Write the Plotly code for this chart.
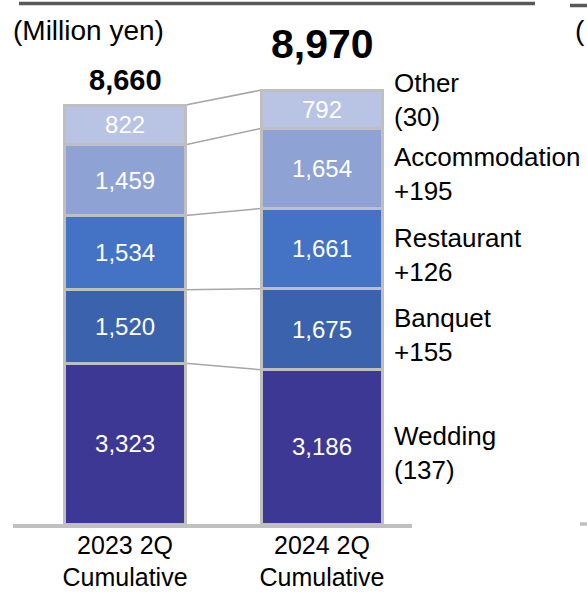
import plotly.graph_objects as go

# Sales breakdown by segment (million yen), bottom to top of each stack
periods = ["2023 2Q<br>Cumulative", "2024 2Q<br>Cumulative"]
segments = ["Wedding", "Banquet", "Restaurant", "Accommodation", "Other"]
sales_2023 = [3323, 1520, 1534, 1459, 822]
sales_2024 = [3186, 1675, 1661, 1654, 792]
totals = [8660, 8970]
changes = [-137, 155, 126, 195, -30]
colors = ["#3d3893", "#3b63ad", "#4472c4", "#8ea3d3", "#b9c3e3"]
unit_label = "(Million yen)"

FONT = "Liberation Sans, Arial, sans-serif"
W, H = 587, 593
L, R, T, B = 13, 175, 80, 69
BAR_W = 0.614


def px_x(px):
    return (px - L) / (W - L - R)


def px_y(py):
    return (H - B - py) / (H - T - B)


def fmt_change(v):
    return f"+{v:,}" if v >= 0 else f"({abs(v):,})"


xs = [0, 1]
fig = go.Figure()
for i, seg in enumerate(segments):
    vals = [sales_2023[i], sales_2024[i]]
    fig.add_trace(go.Bar(
        x=xs, y=vals, name=seg, width=BAR_W,
        marker=dict(color=colors[i], line=dict(color="#bfbfbf", width=3)),
        text=[f"{v:,}" for v in vals], textposition="inside",
        insidetextanchor="middle", constraintext="none",
        textfont=dict(family=FONT, size=24, color="white"),
        hoverinfo="skip",
    ))

# cumulative boundaries for the connector lines between the two stacks
cum_a, cum_b = [], []
sa = sb = 0
for a, b in zip(sales_2023, sales_2024):
    sa += a
    sb += b
    cum_a.append(sa)
    cum_b.append(sb)

shapes = []
for ya, yb in zip(cum_a, cum_b):
    shapes.append(dict(type="line", xref="x", yref="y",
                       x0=BAR_W / 2, x1=1 - BAR_W / 2, y0=ya, y1=yb,
                       line=dict(color="#a6a6a6", width=1.5), layer="below"))

# header rules and the edge of the neighbouring panel
shapes.append(dict(type="line", xref="paper", yref="paper",
                   x0=px_x(19), x1=px_x(535), y0=px_y(3.5), y1=px_y(3.5),
                   line=dict(color="#595959", width=3.5)))
shapes.append(dict(type="line", xref="paper", yref="paper",
                   x0=px_x(570), x1=px_x(600), y0=px_y(5.5), y1=px_y(5.5),
                   line=dict(color="#595959", width=3.5)))
shapes.append(dict(type="line", xref="paper", yref="paper",
                   x0=px_x(580), x1=px_x(600), y0=px_y(524), y1=px_y(524),
                   line=dict(color="#c0c0c0", width=3.5)))

annotations = []
# totals above each stack
annotations.append(dict(x=0, y=totals[0], xref="x", yref="y", text=f"<b>{totals[0]:,}</b>",
                        showarrow=False, yanchor="middle", yshift=25,
                        font=dict(family=FONT, size=29, color="black")))
annotations.append(dict(x=1, y=totals[1], xref="x", yref="y", text=f"<b>{totals[1]:,}</b>",
                        showarrow=False, yanchor="middle", yshift=46,
                        font=dict(family=FONT, size=41, color="black")))

# segment names with year-on-year change, beside the 2024 stack
prev = 0
for i, seg in enumerate(segments):
    mid = prev + sales_2024[i] / 2
    prev += sales_2024[i]
    annotations.append(dict(x=1 + BAR_W / 2, y=mid, xref="x", yref="y",
                            text=f"{seg}<br>{fmt_change(changes[i])}",
                            showarrow=False, xanchor="left", yanchor="middle",
                            align="left", xshift=10, yshift=9 if seg == "Other" else -6,
                            font=dict(family=FONT, size=26, color="black")))

annotations.append(dict(x=px_x(11), y=px_y(30), xref="paper", yref="paper",
                        text=unit_label, showarrow=False, xanchor="left", yanchor="middle",
                        font=dict(family=FONT, size=28, color="black")))
# opening bracket of the next panel's unit label, at the right edge
annotations.append(dict(x=px_x(573), y=px_y(30), xref="paper", yref="paper",
                        text="(", showarrow=False, xanchor="left", yanchor="middle",
                        font=dict(family=FONT, size=28, color="black")))

fig.update_layout(
    barmode="stack",
    width=W, height=H,
    margin=dict(l=L, r=R, t=T, b=B, pad=0),
    plot_bgcolor="white", paper_bgcolor="white",
    showlegend=False,
    shapes=shapes, annotations=annotations,
    xaxis=dict(range=[-0.569, 1.457], tickvals=xs, ticktext=periods,
               showgrid=False, zeroline=False, showline=True, automargin=False,
               linecolor="#c0c0c0", linewidth=3.5, ticks="", ticklabelstandoff=-4,
               tickfont=dict(family=FONT, size=25, color="black"), fixedrange=True),
    yaxis=dict(range=[0, 9175], visible=False, fixedrange=True, automargin=False),
)

fig.write_html("out.html")
